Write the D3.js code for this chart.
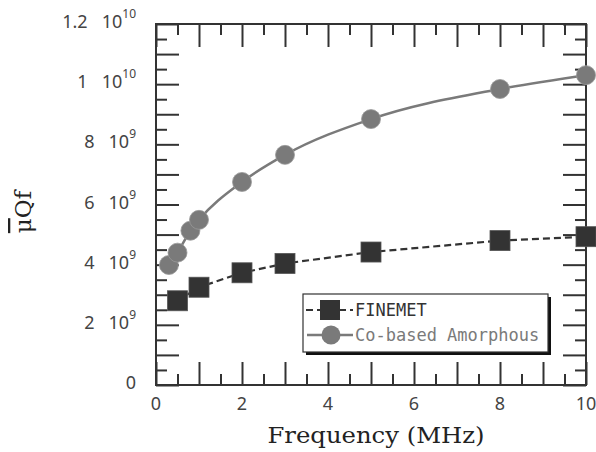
<!DOCTYPE html>
<html>
<head>
<meta charset="utf-8">
<script src="https://cdn.jsdelivr.net/npm/d3@7"></script>
<style>
  html, body { margin: 0; padding: 0; background: #fff; }
  svg { display: block; }
</style>
</head>
<body>
<svg id="chart" width="596" height="452"></svg>
<script>
// Frequency (MHz) and quality-factor product for the two core materials
const finemetFreq = [0.5, 1, 2, 3, 5, 8, 10];
const finemetQf = [2.80e9, 3.25e9, 3.73e9, 4.04e9, 4.42e9, 4.80e9, 4.93e9];
const coFreq = [0.3, 0.5, 0.8, 1, 2, 3, 5, 8, 10];
const coQf = [3.99e9, 4.40e9, 5.13e9, 5.49e9, 6.75e9, 7.65e9, 8.84e9, 9.84e9, 10.3e9];
const seriesNames = ["FINEMET", "Co-based Amorphous"];

// Tick values
const xMajor = [0, 1, 2, 3, 4, 5, 6, 7, 8, 9, 10];
const xMinor = [0.5, 1.5, 2.5, 3.5, 4.5, 5.5, 6.5, 7.5, 8.5, 9.5];
const xLabelled = [0, 2, 4, 6, 8, 10];
const yMajor = [0, 1e9, 2e9, 3e9, 4e9, 5e9, 6e9, 7e9, 8e9, 9e9, 10e9, 11e9, 12e9];
const yMinor = [0.5e9, 1.5e9, 2.5e9, 3.5e9, 4.5e9, 5.5e9, 6.5e9, 7.5e9, 8.5e9, 9.5e9, 10.5e9, 11.5e9];
const yLabelled = [0, 2e9, 4e9, 6e9, 8e9, 10e9, 12e9];

const svg = d3.select("#chart");
const L = 156, R = 586, T = 24, B = 385;
const x = d3.scaleLinear().domain([0, 10]).range([L, R]);
const y = d3.scaleLinear().domain([0, 1.2e10]).range([B, T]);

const ink = "#333";
const gray = "#7a7a7a";
const tickFont = "'Noto Sans', sans-serif";
const legendFont = "'DejaVu Sans Mono', monospace";

function styleAxis(g) {
  g.select(".domain").remove();
  g.selectAll(".tick line").attr("stroke", ink).attr("stroke-width", 2);
}

// Long and short ticks on all four sides, pointing inward
const LONG = 23, SHORT = 11;
svg.append("g").attr("transform", `translate(0,${B})`)
  .call(d3.axisBottom(x).tickValues(xMajor).tickSize(-LONG).tickFormat(""))
  .call(styleAxis);
svg.append("g").attr("transform", `translate(0,${B})`)
  .call(d3.axisBottom(x).tickValues(xMinor).tickSize(-SHORT).tickFormat(""))
  .call(styleAxis);
svg.append("g").attr("transform", `translate(0,${T})`)
  .call(d3.axisTop(x).tickValues(xMajor).tickSize(-LONG).tickFormat(""))
  .call(styleAxis);
svg.append("g").attr("transform", `translate(0,${T})`)
  .call(d3.axisTop(x).tickValues(xMinor).tickSize(-SHORT).tickFormat(""))
  .call(styleAxis);
svg.append("g").attr("transform", `translate(${L},0)`)
  .call(d3.axisLeft(y).tickValues(yMajor).tickSize(-LONG).tickFormat(""))
  .call(styleAxis);
svg.append("g").attr("transform", `translate(${L},0)`)
  .call(d3.axisLeft(y).tickValues(yMinor).tickSize(-SHORT).tickFormat(""))
  .call(styleAxis);
svg.append("g").attr("transform", `translate(${R},0)`)
  .call(d3.axisRight(y).tickValues(yMajor).tickSize(-LONG).tickFormat(""))
  .call(styleAxis);
svg.append("g").attr("transform", `translate(${R},0)`)
  .call(d3.axisRight(y).tickValues(yMinor).tickSize(-SHORT).tickFormat(""))
  .call(styleAxis);

// Frame
svg.append("rect")
  .attr("x", L).attr("y", T).attr("width", R - L).attr("height", B - T)
  .attr("fill", "none").attr("stroke", ink).attr("stroke-width", 2);

// X tick labels
svg.append("g").selectAll("text").data(xLabelled).join("text")
  .attr("x", d => x(d)).attr("y", B + 18)
  .attr("text-anchor", "middle").attr("dominant-baseline", "central")
  .attr("font-family", tickFont).attr("font-size", 18).attr("fill", "#444")
  .text(d => d);

// Y tick labels in "m 10^e" notation
const yl = svg.append("g").selectAll("text").data(yLabelled).join("text")
  .attr("x", 136).attr("y", d => y(d) - 3)
  .attr("text-anchor", "end").attr("dominant-baseline", "central")
  .attr("font-family", tickFont).attr("font-size", 18).attr("fill", "#444");
yl.each(function(d) {
  const t = d3.select(this);
  if (d === 0) { t.text("0"); return; }
  const e = Math.floor(Math.log10(d));
  const m = +(d / Math.pow(10, e)).toFixed(1);
  t.append("tspan").text(m + "\u00a0\u00a0\u00a0");
  t.append("tspan").text("10");
  t.append("tspan").attr("font-size", 12).attr("dy", -8).text(e);
});

// Series lines
const finemetPts = finemetFreq.map((f, i) => [f, finemetQf[i]]);
const coPts = coFreq.map((f, i) => [f, coQf[i]]);

svg.append("path")
  .datum(coPts)
  .attr("fill", "none").attr("stroke", gray).attr("stroke-width", 2.5)
  .attr("d", d3.line().x(d => x(d[0])).y(d => y(d[1])).curve(d3.curveMonotoneX));

svg.append("path")
  .datum(finemetPts)
  .attr("fill", "none").attr("stroke", ink).attr("stroke-width", 2.2)
  .attr("stroke-dasharray", "7,4")
  .attr("d", d3.line().x(d => x(d[0])).y(d => y(d[1])));

// Markers
const SQ = 20, CR = 9.5;
svg.append("g").selectAll("circle").data(coPts).join("circle")
  .attr("cx", d => x(d[0])).attr("cy", d => y(d[1])).attr("r", CR)
  .attr("fill", gray).attr("stroke", "#999").attr("stroke-width", 0.8);
svg.append("g").selectAll("rect").data(finemetPts).join("rect")
  .attr("x", d => x(d[0]) - SQ / 2).attr("y", d => y(d[1]) - SQ / 2)
  .attr("width", SQ).attr("height", SQ)
  .attr("fill", ink).attr("stroke", "#555").attr("stroke-width", 0.8);

// Legend with drop shadow
const lg = svg.append("g");
const lx = 303, ly = 294, lw = 245, lh = 58;
lg.append("rect").attr("x", lx + 3).attr("y", ly + 3).attr("width", lw).attr("height", lh).attr("fill", "#111");
lg.append("rect").attr("x", lx).attr("y", ly).attr("width", lw).attr("height", lh)
  .attr("fill", "#fff").attr("stroke", ink).attr("stroke-width", 1.2);

const row1 = ly + 16, row2 = ly + 41;
lg.append("line").attr("x1", lx + 3).attr("x2", lx + 50).attr("y1", row1).attr("y2", row1)
  .attr("stroke", ink).attr("stroke-width", 2.2).attr("stroke-dasharray", "7,4");
lg.append("rect").attr("x", lx + 27 - SQ / 2).attr("y", row1 - SQ / 2)
  .attr("width", SQ).attr("height", SQ).attr("fill", ink);
lg.append("line").attr("x1", lx + 4).attr("x2", lx + 50).attr("y1", row2).attr("y2", row2)
  .attr("stroke", gray).attr("stroke-width", 2.5);
lg.append("circle").attr("cx", lx + 28).attr("cy", row2).attr("r", CR).attr("fill", gray);

lg.append("text").attr("x", lx + 52).attr("y", row1).attr("dominant-baseline", "central")
  .attr("font-family", legendFont).attr("font-size", 17).attr("fill", ink).text(seriesNames[0]);
lg.append("text").attr("x", lx + 52).attr("y", row2).attr("dominant-baseline", "central")
  .attr("font-family", legendFont).attr("font-size", 17).attr("fill", gray).text(seriesNames[1]);

// Axis titles
svg.append("text")
  .attr("x", 376).attr("y", 443).attr("text-anchor", "middle")
  .attr("font-family", "'DejaVu Serif', serif").attr("font-size", 23).attr("fill", "#222")
  .attr("textLength", 217).attr("lengthAdjust", "spacingAndGlyphs")
  .text("Frequency (MHz)");

const yt = svg.append("text")
  .attr("transform", "translate(31,212) rotate(-90)")
  .attr("text-anchor", "middle")
  .attr("font-family", "'DejaVu Serif', serif").attr("font-size", 23).attr("fill", "#222");
yt.append("tspan").attr("text-decoration", "overline").text("μ");
yt.append("tspan").text("Qf");
</script>
</body>
</html>
